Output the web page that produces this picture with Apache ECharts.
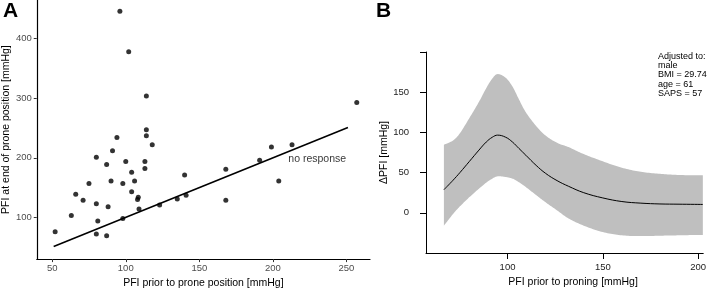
<!DOCTYPE html>
<html>
<head>
<meta charset="utf-8">
<script src="https://cdn.jsdelivr.net/npm/echarts@6/dist/echarts.min.js"></script>
<style>
html,body{margin:0;padding:0;background:#fff;}
#chart{width:709px;height:294px;}
</style>
</head>
<body>
<div id="chart"></div>
<script>
// ---- Panel A data ----
var pfiPrior = [52, 63, 66, 71, 75, 80, 80, 80, 81, 87, 87, 88, 90, 91, 94, 96, 98, 98, 100, 102, 104, 104, 106, 108.5, 108, 109, 113, 113, 114, 114, 114, 118, 123, 135, 140, 141, 168, 168, 191, 199, 204, 213, 257];
var pfiEnd   = [76, 103, 139, 129, 157, 201, 123, 72, 94, 189, 69, 118, 161, 212, 234, 446, 157, 98, 194, 378, 176, 143, 161, 134, 130, 114, 194, 182, 304, 247, 237, 222, 121, 131, 171, 137, 181, 129, 196, 218, 161, 222, 293];
var noResponseX = [51, 251];
var noResponseY = [51, 251];
var aXTicks = [50, 100, 150, 200, 250];
var aYTicks = [100, 200, 300, 400];

// ---- Panel B data ----
var bX     = [66.6, 71.4, 75, 80, 85, 88.8, 92, 94.8, 99, 102.6, 106, 109.6, 115, 120, 126, 132, 140, 150, 160, 170, 180, 190, 202.5];
var bMid   = [28.7, 40.5, 50, 64, 78, 88, 94, 96.6, 94, 88, 80, 71.6, 59, 49, 40, 33, 25, 18.5, 14, 12, 11, 10.7, 10.4];
var bUpper = [84.6, 90, 99, 118, 138, 155, 167, 172.5, 168, 157, 141, 125, 108, 96, 87, 81.7, 73, 64, 56, 51, 48.5, 47, 46.6];
var bLower = [-16, -1.5, 8, 19.5, 30, 37.5, 42.5, 45.4, 44.5, 42.5, 38, 32, 22, 13, 3, -7, -16, -24, -28, -29, -28.5, -28, -27.5];
var bXTicks = [100, 150, 200];
var bYTickMarks = [0, 50, 100, 150, 200];
var bYTickLabels = [0, 50, 100, 150];
var adjustedLines = ['Adjusted to:', 'male', 'BMI = 29.74', 'age = 61', 'SAPS = 57'];

var FONT = '"Liberation Sans", Arial, Helvetica, sans-serif';

var scatterData = pfiPrior.map(function (x, i) { return [x, pfiEnd[i]]; });
var lineData = noResponseX.map(function (x, i) { return [x, noResponseY[i]]; });
var bandData = bX.map(function (x, i) { return [x, bLower[i], bUpper[i]]; });
var midData = bX.map(function (x, i) { return [x, bMid[i]]; });

// Catmull-Rom smoothing in pixel space (rendering only)
function smoothPts(pts, n) {
  var out = [];
  for (var i = 0; i < pts.length - 1; i++) {
    var p0 = pts[Math.max(i - 1, 0)], p1 = pts[i], p2 = pts[i + 1], p3 = pts[Math.min(i + 2, pts.length - 1)];
    for (var k = 0; k < n; k++) {
      var t = k / n, t2 = t * t, t3 = t2 * t;
      out.push([
        0.5 * ((2 * p1[0]) + (-p0[0] + p2[0]) * t + (2 * p0[0] - 5 * p1[0] + 4 * p2[0] - p3[0]) * t2 + (-p0[0] + 3 * p1[0] - 3 * p2[0] + p3[0]) * t3),
        0.5 * ((2 * p1[1]) + (-p0[1] + p2[1]) * t + (2 * p0[1] - 5 * p1[1] + 4 * p2[1] - p3[1]) * t2 + (-p0[1] + 3 * p1[1] - 3 * p2[1] + p3[1]) * t3)
      ]);
    }
  }
  out.push(pts[pts.length - 1]);
  return out;
}

function renderBand(params, api) {
  if (params.dataIndex !== 0) return null;
  var up = [], lo = [];
  for (var i = 0; i < bandData.length; i++) {
    up.push(api.coord([bandData[i][0], bandData[i][2]]));
    lo.push(api.coord([bandData[i][0], bandData[i][1]]));
  }
  var pts = smoothPts(up, 12).concat(smoothPts(lo, 12).reverse());
  return {
    type: 'polygon',
    shape: {points: pts},
    style: {fill: '#bfbfbf', stroke: null}
  };
}

var chart = echarts.init(document.getElementById('chart'), null, {renderer: 'canvas'});

chart.setOption({
  animation: false,
  backgroundColor: '#fff',
  textStyle: {fontFamily: FONT},
  grid: [
    {left: 32, right: 339, top: 0, bottom: 33},
    {left: 426, right: 3, top: 52, bottom: 41}
  ],
  xAxis: [
    {
      gridIndex: 0, type: 'value', min: 39.5, max: 266,
      name: 'PFI prior to prone position [mmHg]', nameLocation: 'middle', nameGap: 13,
      nameTextStyle: {color: '#000', fontSize: 10.5, fontFamily: FONT},
      axisLine: {show: true, onZero: false, lineStyle: {color: '#000', width: 1.2}},
      axisTick: {show: true, length: 3, customValues: aXTicks, lineStyle: {color: '#333'}},
      axisLabel: {customValues: aXTicks, color: '#4d4d4d', fontSize: 9.5, margin: 4, fontFamily: FONT},
      splitLine: {show: false}
    },
    {
      gridIndex: 1, type: 'value', min: 57.2, max: 202.7,
      name: 'PFI prior to proning [mmHg]', nameLocation: 'middle', nameGap: 20,
      nameTextStyle: {color: '#000', fontSize: 10.5, fontFamily: FONT, padding: [0, 0, 0, 17]},
      axisLine: {show: true, onZero: false, lineStyle: {color: '#000', width: 1}},
      axisTick: {show: true, length: 6, customValues: bXTicks, lineStyle: {color: '#000'}},
      axisLabel: {customValues: bXTicks, color: '#222', fontSize: 9.5, margin: 9, fontFamily: FONT},
      splitLine: {show: false}
    }
  ],
  yAxis: [
    {
      gridIndex: 0, type: 'value', min: 30, max: 465,
      name: 'PFI at end of prone position [mmHg]', nameLocation: 'middle', nameGap: 21,
      nameTextStyle: {color: '#000', fontSize: 10.5, fontFamily: FONT},
      axisLine: {show: true, onZero: false, lineStyle: {color: '#000', width: 1.2}},
      axisTick: {show: true, length: 3, customValues: aYTicks, lineStyle: {color: '#333'}},
      axisLabel: {customValues: aYTicks, color: '#4d4d4d', fontSize: 9.5, margin: 5, fontFamily: FONT},
      splitLine: {show: false}
    },
    {
      gridIndex: 1, type: 'value', min: -50, max: 200,
      name: '\u0394PFI [mmHg]', nameLocation: 'middle', nameGap: 29,
      nameTextStyle: {color: '#000', fontSize: 10.5, fontFamily: FONT},
      axisLine: {show: true, onZero: false, lineStyle: {color: '#000', width: 1}},
      axisTick: {show: true, length: 6, customValues: bYTickMarks, lineStyle: {color: '#000'}},
      axisLabel: {customValues: bYTickLabels, color: '#222', fontSize: 9.5, margin: 17, fontFamily: FONT},
      splitLine: {show: false}
    }
  ],
  series: [
    {
      type: 'line', xAxisIndex: 0, yAxisIndex: 0, data: lineData,
      symbol: 'none', lineStyle: {color: '#000', width: 1.6}, z: 2
    },
    {
      type: 'scatter', xAxisIndex: 0, yAxisIndex: 0, data: scatterData,
      symbol: 'circle', symbolSize: 5, itemStyle: {color: '#000'}, z: 3
    },
    {
      type: 'scatter', xAxisIndex: 0, yAxisIndex: 0, data: [[210.5, 198]],
      symbolSize: 0, silent: true,
      label: {show: true, position: 'right', distance: 0, formatter: 'no response',
              color: '#000', fontSize: 10.5, fontFamily: FONT}
    },
    {
      type: 'custom', xAxisIndex: 1, yAxisIndex: 1, data: bandData,
      encode: {x: 0, y: [1, 2]}, renderItem: renderBand, silent: true, z: 1
    },
    {
      type: 'line', xAxisIndex: 1, yAxisIndex: 1, data: midData,
      symbol: 'none', smooth: 0.4, lineStyle: {color: '#000', width: 1}, z: 3
    }
  ],
  graphic: [
    {type: 'text', left: 3, top: 1, style: {text: 'A', font: 'bold 21px ' + FONT, fill: '#000'}},
    {type: 'text', left: 376, top: 1, style: {text: 'B', font: 'bold 21px ' + FONT, fill: '#000'}},
    {type: 'text', left: 658, top: 51.5, style: {text: adjustedLines.join('\n'), font: '9px ' + FONT, lineHeight: 9.4, fill: '#000'}}
  ]
});
</script>
</body>
</html>
